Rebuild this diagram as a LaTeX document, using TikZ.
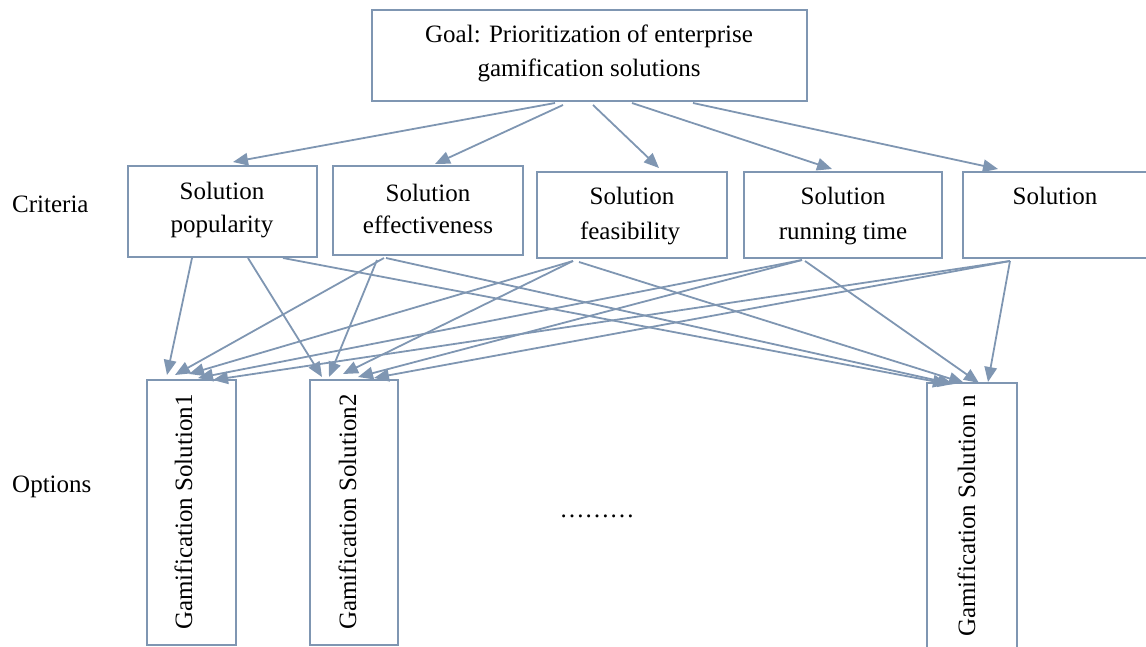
\documentclass[tikz,border=0pt]{standalone}
\usepackage{fontspec}
\setmainfont{Liberation Serif}
\usetikzlibrary{arrows.meta}
\definecolor{linecol}{RGB}{127,150,178}
\begin{document}
\begin{tikzpicture}[x=1pt,y=-1pt,
  box/.style={draw=linecol, line width=2pt, inner sep=0pt, outer sep=0pt, anchor=north west},
  lbl/.style={inner sep=0pt, font=\fontsize{25}{30}\selectfont, anchor=base},
  side/.style={lbl, anchor=base west},
  vlbl/.style={lbl, rotate=90, anchor=base west},
  arr/.style={draw=linecol, line width=1.8pt, -{Triangle[length=15pt,width=12.5pt]}}]
\useasboundingbox (0,0) rectangle (1146,647);
\clip (0,0) rectangle (1146,647);
% boxes
\node[box, minimum width=435pt, minimum height=91pt] (goal) at (372,10) {};
\node[box, minimum width=189pt, minimum height=91pt] (c1) at (128,166) {};
\node[box, minimum width=190pt, minimum height=89pt] (c2) at (333,166) {};
\node[box, minimum width=190pt, minimum height=86pt] (c3) at (537,172) {};
\node[box, minimum width=198pt, minimum height=86pt] (c4) at (744,172) {};
\node[box, minimum width=200pt, minimum height=86pt] (c5) at (963,172) {};
\node[box, minimum width=89pt, minimum height=265pt] (o1) at (147,380) {};
\node[box, minimum width=88pt, minimum height=265pt] (o2) at (310,380) {};
\node[box, minimum width=90pt, minimum height=290pt] (on) at (927,383) {};
% texts
\node[lbl] (g1) at (589,43) {Goal: Prioritization of enterprise};
\node[lbl] (g2) at (589,77) {gamification solutions};
\node[lbl] (c1a) at (222,200) {Solution};
\node[lbl] (c1b) at (222,233) {popularity};
\node[lbl] (c2a) at (428,202) {Solution};
\node[lbl] (c2b) at (428,234) {effectiveness};
\node[lbl] (c3a) at (632,205) {Solution};
\node[lbl] (c3b) at (630,240) {feasibility};
\node[lbl] (c4a) at (843,205) {Solution};
\node[lbl] (c4b) at (843,240) {running time};
\node[lbl] (c5a) at (1055,205) {Solution};
\node[side] (crit) at (12,213) {Criteria};
\node[side] (opts) at (12,492) {Options};
\node[lbl] (dots) at (597,517) {………};
\node[vlbl] (o1t) at (192,630) {Gamification Solution1};
\node[vlbl] (o2t) at (356,630) {Gamification Solution2};
\node[vlbl] (ont) at (975,637) {Gamification Solution n};
% goal -> criteria
\draw[arr] ([shift={(183,2)}]goal.south west) -- ([shift={(105,-4)}]c1.north west);
\draw[arr] ([shift={(191,4)}]goal.south west) -- ([shift={(102,-2)}]c2.north west);
\draw[arr] ([shift={(221,4)}]goal.south west) -- ([shift={(122,-4)}]c3.north west);
\draw[arr] ([shift={(260,2)}]goal.south west) -- ([shift={(88,-3)}]c4.north west);
\draw[arr] ([shift={(321,2)}]goal.south west) -- ([shift={(35,-3)}]c5.north west);
% criteria -> options
\draw[arr] ([shift={(64,1)}]c1.south west) -- ([shift={(20,-5)}]o1.north west);
\draw[arr] ([shift={(120,1)}]c1.south west) -- ([shift={(12,-3)}]o2.north west);
\draw[arr] ([shift={(155,1)}]c1.south west) -- ([shift={(21,1)}]on.north west);
\draw[arr] ([shift={(51,3)}]c2.south west) -- ([shift={(28,-5)}]o1.north west);
\draw[arr] ([shift={(44,5)}]c2.south west) -- ([shift={(19,-3)}]o2.north west);
\draw[arr] ([shift={(53,3)}]c2.south west) -- ([shift={(26,1)}]on.north west);
\draw[arr] ([shift={(36,3)}]c3.south west) -- ([shift={(42,-6)}]o1.north west);
\draw[arr] ([shift={(36,3)}]c3.south west) -- ([shift={(33,-6)}]o2.north west);
\draw[arr] ([shift={(42,4)}]c3.south west) -- ([shift={(37,0)}]on.north west);
\draw[arr] ([shift={(58,2)}]c4.south west) -- ([shift={(51,-2)}]o1.north west);
\draw[arr] ([shift={(58,2)}]c4.south west) -- ([shift={(48,-3)}]o2.north west);
\draw[arr] ([shift={(61,3)}]c4.south west) -- ([shift={(52,0)}]on.north west);
\draw[arr] ([shift={(47,3)}]c5.south west) -- ([shift={(66,0)}]o1.north west);
\draw[arr] ([shift={(47,3)}]c5.south west) -- ([shift={(64,-2)}]o2.north west);
\draw[arr] ([shift={(47,3)}]c5.south west) -- ([shift={(61,-1)}]on.north west);
\end{tikzpicture}
\end{document}
